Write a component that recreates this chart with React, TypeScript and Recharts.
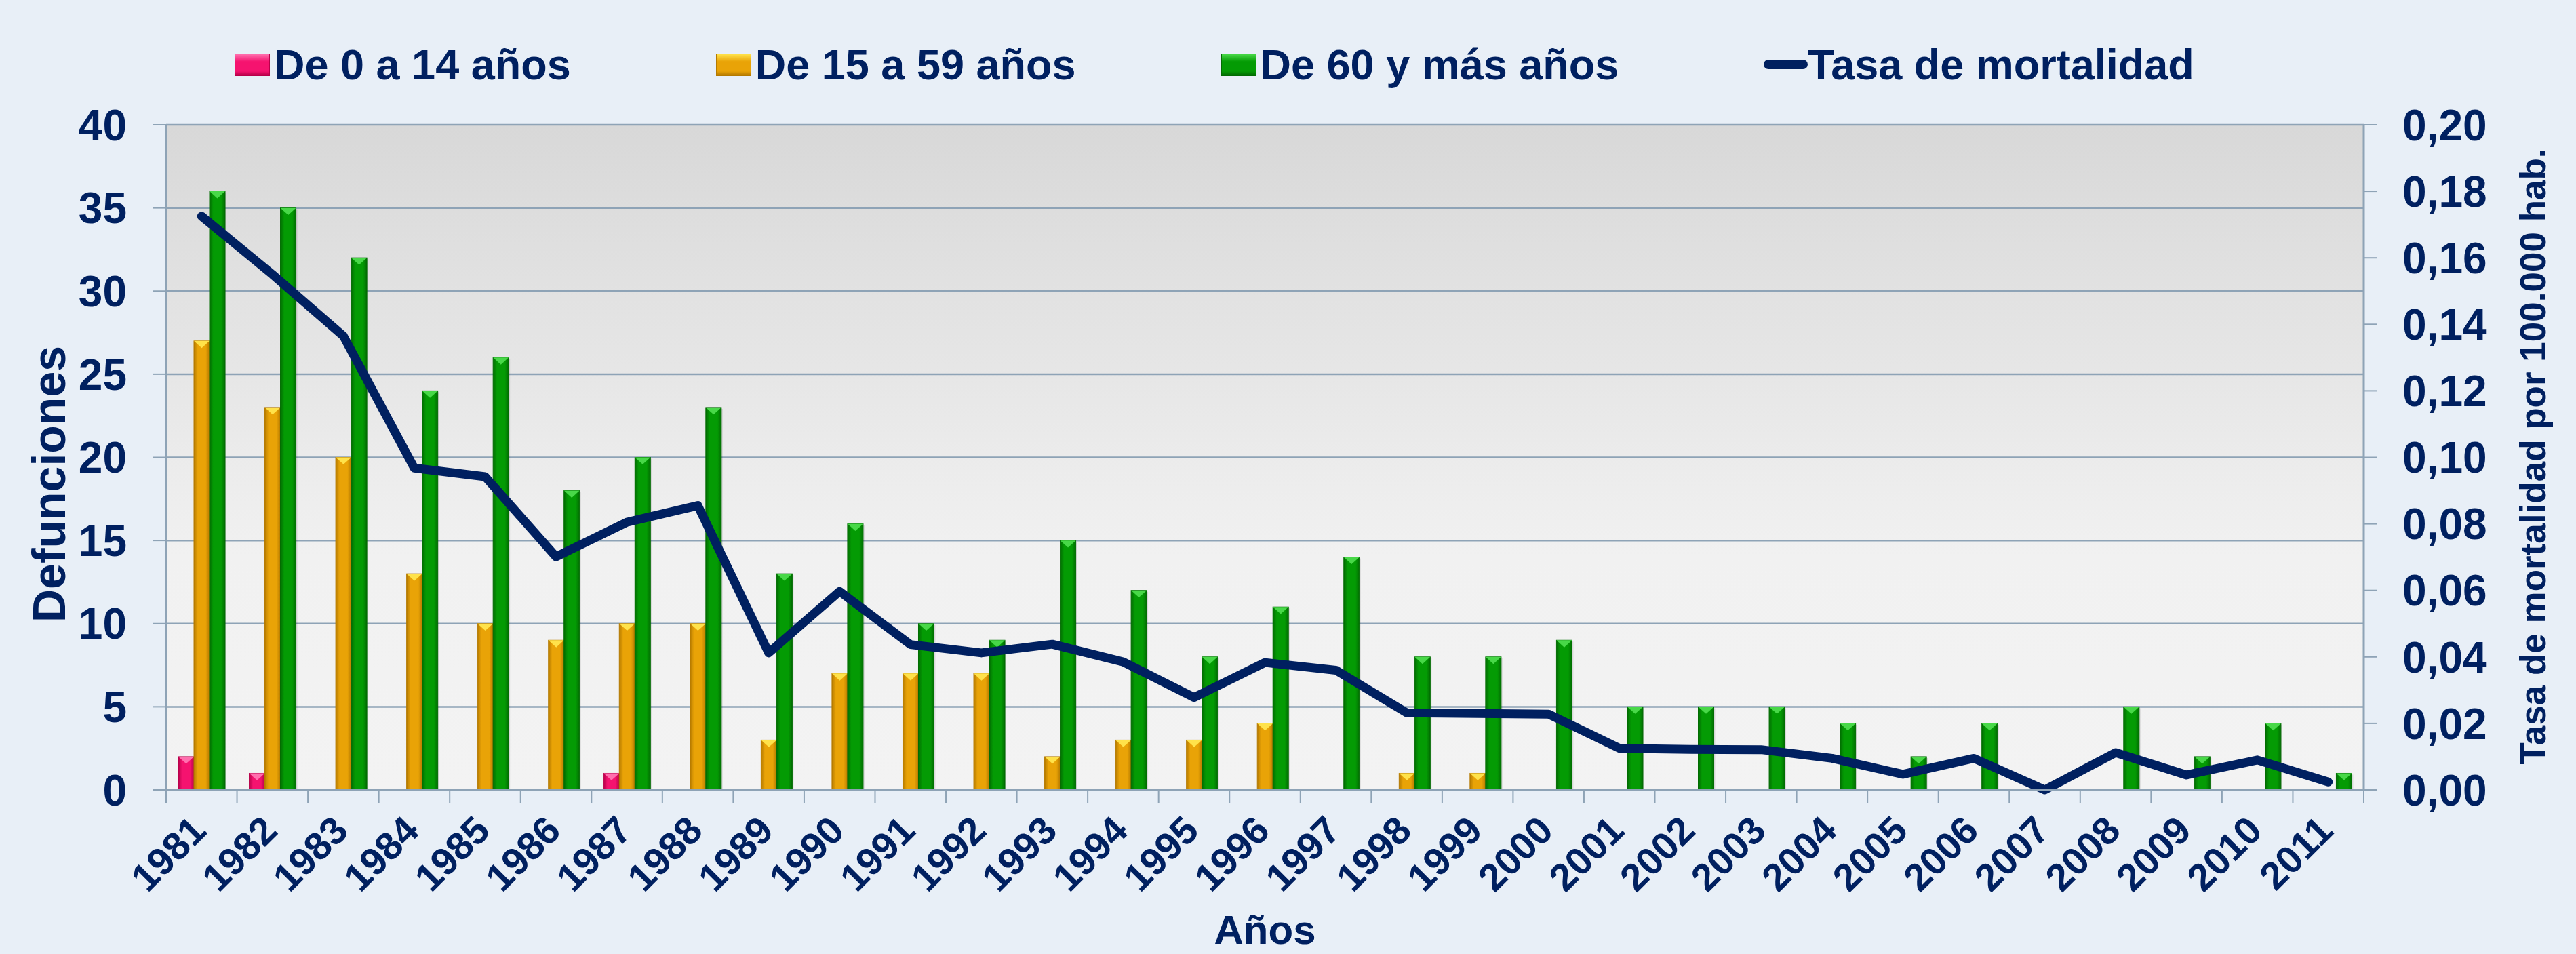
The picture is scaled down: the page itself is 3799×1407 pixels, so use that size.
import React from 'react';
import { ComposedChart, Bar, Line, XAxis, YAxis, CartesianGrid } from 'recharts';

const years = ['1981','1982','1983','1984','1985','1986','1987','1988','1989','1990','1991','1992','1993','1994','1995','1996','1997','1998','1999','2000','2001','2002','2003','2004','2005','2006','2007','2008','2009','2010','2011'];
const age0to14 = [2,1,0,0,0,0,1,0,0,0,0,0,0,0,0,0,0,0,0,0,0,0,0,0,0,0,0,0,0,0,0];
const age15to59 = [27,23,20,13,10,9,10,10,3,7,7,7,2,3,3,4,0,1,1,0,0,0,0,0,0,0,0,0,0,0,0];
const age60plus = [36,35,32,24,26,18,20,23,13,16,10,9,15,12,8,11,14,8,8,9,5,5,5,4,2,4,0,5,2,4,1];
const mortalityRate = [0.1725,0.155,0.1365,0.0968,0.0942,0.0701,0.0805,0.0855,0.0412,0.0597,0.0437,0.0412,0.0438,0.0385,0.0278,0.0383,0.036,0.0232,0.023,0.0228,0.0125,0.0122,0.0121,0.0095,0.0047,0.0095,0.0,0.0112,0.0045,0.009,0.0024];

const leftTicks = [0,5,10,15,20,25,30,35,40];
const rightTicks = [0,0.02,0.04,0.06,0.08,0.1,0.12,0.14,0.16,0.18,0.2];

const seriesNames = ['De 0 a 14 años','De 15 a 59 años','De 60 y más años','Tasa de mortalidad'];

const data = years.map((y, i) => ({
  year: y,
  a: age0to14[i],
  b: age15to59[i],
  c: age60plus[i],
  rate: mortalityRate[i],
}));

const NAVY = '#002060';
const GRID = '#8EA3B6';
const BG = '#E8EFF7';
const FONT = '"Liberation Sans", Arial, sans-serif';

const W = 3799;
const H = 1407;
const LEFT_W = 245;
const RIGHT_W = 313;
const TOP = 184;
const XAXIS_H = 242;
const PLOT_W = W - LEFT_W - RIGHT_W;
const HALF_BAND = PLOT_W / years.length / 2;

const palette = {
  a: { base: '#F5136F', dark: '#B8004A', light: '#FF6FAE' },
  b: { base: '#E9A307', dark: '#B57A00', light: '#FFE24A' },
  c: { base: '#049B04', dark: '#026C02', light: '#48D848' },
};

const makeShape = (key) => (props) => {
  const { x, y, width, height } = props;
  if (!height || height <= 0.5) return null;
  const c = palette[key];
  const tri = Math.min(width * 0.45, height);
  return (
    <g>
      <rect x={x + 2} y={y + 2} width={width} height={height - 2} fill="rgba(0,0,0,0.10)" />
      <rect x={x} y={y} width={width} height={height} fill={`url(#grad-${key})`} stroke={c.dark} strokeWidth={1} />
      <polygon points={`${x},${y} ${x + width},${y} ${x + width / 2},${y + tri}`} fill={c.light} />
    </g>
  );
};

const XTick = (props) => {
  const { x, y, payload, index } = props;
  const tx = x + 10;
  const ty = y + 63;
  return (
    <g>
      <line x1={x - HALF_BAND} y1={y} x2={x - HALF_BAND} y2={y + 20} stroke={GRID} strokeWidth={2} />
      {index === years.length - 1 && (
        <line x1={x + HALF_BAND} y1={y} x2={x + HALF_BAND} y2={y + 20} stroke={GRID} strokeWidth={2} />
      )}
      <text x={tx} y={ty} textAnchor="end" transform={`rotate(-45 ${tx} ${ty})`} fill={NAVY} fontSize={57} fontWeight="bold" fontFamily={FONT}>
        {payload.value}
      </text>
    </g>
  );
};

const LeftLabel = () => (
  <text x={72} y={714} transform="rotate(-90 72 714)" textAnchor="middle" dominantBaseline="central" fill={NAVY} fontSize={68} fontWeight="bold" fontFamily={FONT}>
    Defunciones
  </text>
);

const RightLabel = () => (
  <text x={3735} y={673} transform="rotate(-90 3735 673)" textAnchor="middle" dominantBaseline="central" fill={NAVY} fontSize={53} fontWeight="bold" fontFamily={FONT}>
    Tasa de mortalidad por 100.000 hab.
  </text>
);

const legendKeys = ['a', 'b', 'c'];

const LegendBox = ({ k }) => {
  const c = palette[k];
  return (
    <div style={{ width: 52, height: 33, background: `linear-gradient(to bottom, ${c.light} 0%, ${c.base} 35%, ${c.base} 80%, ${c.dark} 100%)`, border: `1px solid ${c.dark}`, boxSizing: 'border-box' }} />
  );
};

export default function App() {
  return (
    <div style={{ position: 'fixed', left: 0, top: 0, width: W, height: H, background: BG, overflow: 'hidden' }}>
      <div style={{ position: 'absolute', left: 346, top: 64, height: 62, display: 'flex', alignItems: 'center', gap: 214, fontFamily: FONT, fontWeight: 'bold', fontSize: 63, color: NAVY, whiteSpace: 'nowrap', zIndex: 2 }}>
        {legendKeys.map((k, i) => (
          <div key={k} style={{ display: 'flex', alignItems: 'center', gap: 6 }}>
            <LegendBox k={k} />
            <span>{seriesNames[i]}</span>
          </div>
        ))}
        <div style={{ display: 'flex', alignItems: 'center', gap: 0 }}>
          <div style={{ width: 65, height: 14, borderRadius: 7, background: NAVY }} />
          <span>{seriesNames[3]}</span>
        </div>
      </div>
      <ComposedChart
        width={W}
        height={H}
        data={data}
        margin={{ top: TOP, right: 0, bottom: 0, left: 0 }}
        barSize={23}
        barGap={0}
        style={{ fontFamily: FONT }}
      >
        <defs>
          <linearGradient id="plotBg" x1="0" y1="0" x2="0" y2="1">
            <stop offset="0%" stopColor="#D8D8D8" />
            <stop offset="65%" stopColor="#F1F1F1" />
            <stop offset="100%" stopColor="#F3F3F3" />
          </linearGradient>
          {legendKeys.map((k) => (
            <linearGradient key={k} id={`grad-${k}`} x1="0" y1="0" x2="1" y2="0">
              <stop offset="0%" stopColor={palette[k].dark} />
              <stop offset="25%" stopColor={palette[k].base} />
              <stop offset="75%" stopColor={palette[k].base} />
              <stop offset="100%" stopColor={palette[k].dark} />
            </linearGradient>
          ))}
        </defs>
        <CartesianGrid yAxisId="left" vertical={false} stroke={GRID} strokeWidth={2.5} fill="url(#plotBg)" fillOpacity={1} />
        <XAxis
          dataKey="year"
          interval={0}
          height={XAXIS_H}
          tickLine={false}
          tickSize={0}
          tickMargin={0}
          axisLine={{ stroke: GRID, strokeWidth: 3 }}
          tick={<XTick />}
          label={{ value: 'Años', position: 'insideBottom', offset: 15, style: { fill: NAVY, fontSize: 60, fontWeight: 'bold', fontFamily: FONT } }}
        />
        <YAxis
          yAxisId="left"
          orientation="left"
          width={LEFT_W}
          domain={[0, 40]}
          ticks={leftTicks}
          interval={0}
          tickSize={20}
          tickMargin={38}
          tickLine={{ stroke: GRID, strokeWidth: 2 }}
          axisLine={{ stroke: GRID, strokeWidth: 3 }}
          tick={{ fill: NAVY, fontSize: 64, fontWeight: 'bold', fontFamily: FONT }}
          label={<LeftLabel />}
        />
        <YAxis
          yAxisId="right"
          orientation="right"
          width={RIGHT_W}
          domain={[0, 0.2]}
          ticks={rightTicks}
          interval={0}
          tickSize={20}
          tickMargin={37}
          tickLine={{ stroke: GRID, strokeWidth: 2 }}
          axisLine={{ stroke: GRID, strokeWidth: 3 }}
          tickFormatter={(v) => v.toFixed(2).replace('.', ',')}
          tick={{ fill: NAVY, fontSize: 64, fontWeight: 'bold', fontFamily: FONT }}
          label={<RightLabel />}
        />
        <Bar yAxisId="left" dataKey="a" name={seriesNames[0]} fill={palette.a.base} shape={makeShape('a')} isAnimationActive={false} />
        <Bar yAxisId="left" dataKey="b" name={seriesNames[1]} fill={palette.b.base} shape={makeShape('b')} isAnimationActive={false} />
        <Bar yAxisId="left" dataKey="c" name={seriesNames[2]} fill={palette.c.base} shape={makeShape('c')} isAnimationActive={false} />
        <Line
          yAxisId="right"
          type="linear"
          dataKey="rate"
          name={seriesNames[3]}
          stroke={NAVY}
          strokeWidth={13}
          strokeLinecap="round"
          strokeLinejoin="round"
          dot={false}
          activeDot={false}
          isAnimationActive={false}
        />
      </ComposedChart>
    </div>
  );
}
